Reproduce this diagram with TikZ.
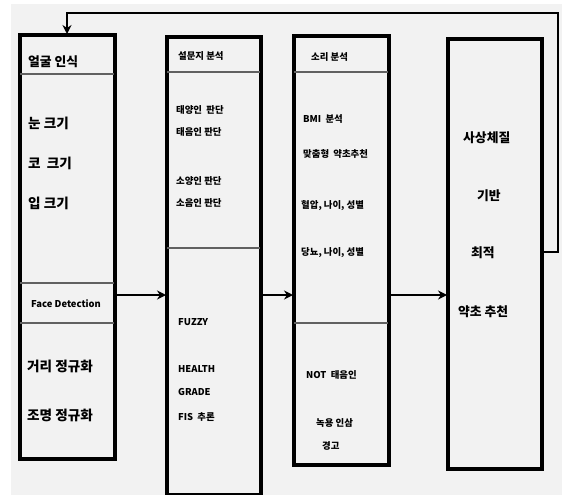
\documentclass[tikz,border=0pt]{standalone}
\usepackage{fontspec}
\setmainfont{Noto Sans CJK KR}
\usetikzlibrary{arrows.meta}
\tikzset{
  box/.style={draw=black, line width=2.8pt, rectangle, inner sep=0pt, anchor=north west},
  divider/.style={draw=black!62, line width=1.8pt},
  arr/.style={draw=black, line width=2.8pt, -{Stealth[length=9pt,width=9pt,inset=3pt]}},
  fb/.style={draw=black, line width=2.8pt, -{Stealth[length=9pt,width=9pt,inset=3pt]}},
  big/.style={anchor=west, inner sep=0pt, font=\fontsize{13.6}{15}\selectfont\bfseries},
  head/.style={anchor=west, inner sep=0pt, font=\fontsize{12.8}{15}\selectfont\bfseries},
  small/.style={anchor=west, inner sep=0pt, font=\fontsize{9.4}{11}\selectfont\bfseries},
}
\begin{document}
\begin{tikzpicture}[x=1pt,y=-1pt]
\useasboundingbox (0,0) rectangle (562,495);
\fill[white] (0,0) rectangle (562,495);
\fill[black!5] (11,4) rectangle (562,495);

% boxes
\node[box, minimum width=94pt, minimum height=423pt] (b1) at (19,34) {};
\node[box, minimum width=93pt, minimum height=457pt] (b2) at (166,36) {};
\node[box, minimum width=94pt, minimum height=428pt] (b3) at (293,35) {};
\node[box, minimum width=93pt, minimum height=429pt] (b4) at (447,38) {};

% dividers
\coordinate (d1a) at (0,74);  \coordinate (d1b) at (0,283); \coordinate (d1c) at (0,323);
\coordinate (d2a) at (0,72);  \coordinate (d2b) at (0,248);
\coordinate (d3a) at (0,72);  \coordinate (d3b) at (0,323);
\draw[divider] (b1.west |- d1a) -- (b1.east |- d1a);
\draw[divider] (b1.west |- d1b) -- (b1.east |- d1b);
\draw[divider] (b1.west |- d1c) -- (b1.east |- d1c);
\draw[divider] (b2.west |- d2a) -- (b2.east |- d2a);
\draw[divider] (b2.west |- d2b) -- (b2.east |- d2b);
\draw[divider] (b3.west |- d3a) -- (b3.east |- d3a);
\draw[divider] (b3.west |- d3b) -- (b3.east |- d3b);
% redraw box outlines on top
\draw[line width=2.8pt] (b1.north west) rectangle (b1.south east);
\draw[line width=2.8pt] (b2.north west) rectangle (b2.south east);
\draw[line width=2.8pt] (b3.north west) rectangle (b3.south east);
\draw[line width=2.8pt] (b4.north west) rectangle (b4.south east);

% arrows
\coordinate (ay) at (0,295);
\draw[arr] (b1.east |- ay) -- (b2.west |- ay);
\draw[arr] (b2.east |- ay) -- (b3.west |- ay);
\draw[arr] (b3.east |- ay) -- (b4.west |- ay);

% feedback
\coordinate (fy) at (0,252);
\coordinate (fr) at (558,13);
\coordinate (fl) at (67,13);
\draw[fb] (b4.east |- fy) -| (fr) -- (fl) -- (fl |- b1.north);

% box 1 texts
\node[head] (t11) at (28,62) {얼굴 인식};
\node[big] (t12) at (28,123) {눈 크기};
\node[big] (t13) at (28,163) {코 \ 크기};
\node[big] (t14) at (28,203) {입 크기};
\node[small] (t15) at (31,304) {Face Detection};
\node[big] (t16) at (27,366) {거리 정규화};
\node[big] (t17) at (27,415) {조명 정규화};

% box 2 texts
\node[small] (t21) at (178,56) {설문지 분석};
\node[small] (t22) at (176,110) {태양인 \ 판단};
\node[small] (t23) at (176,132) {태음인 판단};
\node[small] (t24) at (176,181) {소양인 판단};
\node[small] (t25) at (176,203) {소음인 판단};
\node[small] (t26) at (178,322) {FUZZY};
\node[small] (t27) at (178,369) {HEALTH};
\node[small] (t28) at (178,392) {GRADE};
\node[small] (t29) at (178,417) {FIS \ 추론};

% box 3 texts
\node[small] (t31) at (311,57) {소리 분석};
\node[small] (t32) at (303,119) {BMI \ 분석};
\node[small] (t33) at (303,154) {맞춤형 \ 약초추천};
\node[small] (t34) at (301,206) {혈압, 나이, 성별};
\node[small] (t35) at (301,253) {당뇨, 나이, 성별};
\node[small] (t36) at (306,375) {NOT \ 태음인};
\node[small] (t37) at (316,423) {녹용 인삼};
\node[small] (t38) at (322,446) {경고};

% box 4 texts
\node[head] (t41) at (463,138) {사상체질};
\node[head] (t42) at (477,196) {기반};
\node[head] (t43) at (471,253) {최적};
\node[head] (t44) at (458,312) {약초 추천};
\end{tikzpicture}
\end{document}
